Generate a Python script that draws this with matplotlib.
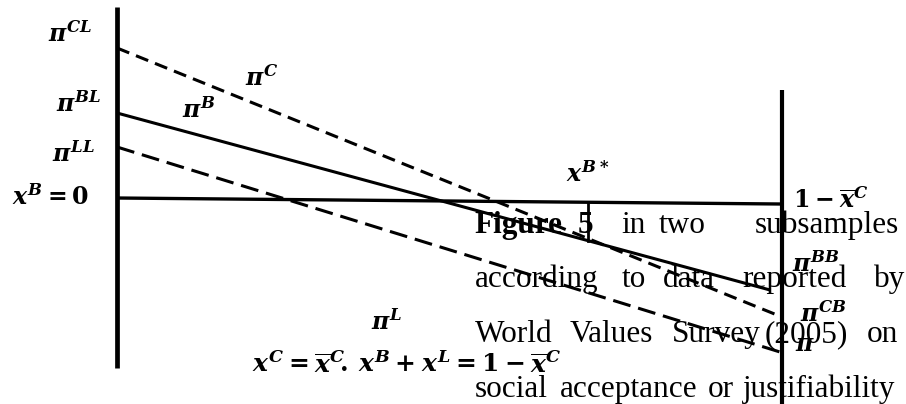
import matplotlib
matplotlib.use("Agg")
import numpy as np
import matplotlib.pyplot as plt

plt.rcParams['mathtext.fontset'] = 'custom'
plt.rcParams['mathtext.rm'] = 'DejaVu Serif:bold'
plt.rcParams['mathtext.it'] = 'DejaVu Serif:bold:italic'
plt.rcParams['mathtext.bf'] = 'DejaVu Serif:bold'

# payoff lines: value at x^B = 0 and at the right end of each line
x_end = np.array([0.0, 1.0])
pi_C = [1.52, -1.17]
pi_B = [0.87, -0.90]
pi_B_xend = 0.982
pi_L = [0.53, -1.52]
pi_L_xend = 0.997
base = [0.02, -0.04]
x_star = 0.708

# vertical axes (bottom, top)
left_axis = [-1.68, 1.93]
right_axis = [-2.04, 1.10]

fig = plt.figure(figsize=(9.06, 4.04), dpi=100)
ax = fig.add_axes([0, 0, 1, 1])
ax.set_xlim(-117 / 665, 789 / 665)
ax.set_ylim(-2.04, 2.0)
ax.axis('off')

ax.plot([0, 0], left_axis, color='black', lw=3.4, solid_capstyle='butt')
ax.plot([1, 1], right_axis, color='black', lw=3.0, solid_capstyle='butt')
ax.plot([0, 0.997], base, color='black', lw=2.4, solid_capstyle='butt')

ax.plot(x_end, pi_C, color='black', lw=2.2, dashes=(4.3, 2.4))
ax.plot([0, pi_B_xend], pi_B, color='black', lw=2.2, solid_capstyle='butt')
ax.plot([0, pi_L_xend], pi_L, color='black', lw=2.2, dashes=(5.9, 2.6))

# x^B* drop line, from the zero line down to pi^B
y_top = np.interp(x_star, [0, 0.997], base)
y_bot = np.interp(x_star, [0, pi_B_xend], pi_B)
ax.plot([x_star, x_star], [y_top, y_bot], color='black', lw=2.0)

ms = 17
labels = [
    (-0.071, 1.66, r'$\pi^{CL}$'),
    (-0.057, 0.96, r'$\pi^{BL}$'),
    (-0.066, 0.46, r'$\pi^{LL}$'),
    (-0.099, 0.03, r'$x^B=0$'),
    (0.218, 1.22, r'$\pi^C$'),
    (0.123, 0.90, r'$\pi^B$'),
    (0.406, -1.22, r'$\pi^L$'),
    (0.708, 0.26, r'$x^{B*}$'),
    (1.074, 0.00, r'$1-\overline{x}^C$'),
    (1.051, -0.64, r'$\pi^{BB}$'),
]
for x, y, s in labels:
    ax.text(x, y, s, fontsize=ms, ha='center', va='center')

ax.text(0.436, -1.64, r'$x^C=\overline{x}^C\!.\,x^B+x^L=1-\overline{x}^C$',
        fontsize=18, ha='center', va='center')

# body text lines, justified word by word
serif = 'Liberation Serif'
bs = 22.5
words = [
    (0.538, -0.33, 'Figure', 'bold'),
    (0.693, -0.33, '5', 'bold'),
    (0.759, -0.33, 'in', 'normal'),
    (0.814, -0.33, 'two', 'normal'),
    (0.959, -0.33, 'subsamples', 'normal'),
    (0.538, -0.87, 'according', 'normal'),
    (0.759, -0.87, 'to', 'normal'),
    (0.821, -0.87, 'data', 'normal'),
    (0.941, -0.87, 'reported', 'normal'),
    (1.138, -0.87, 'by', 'normal'),
    (0.538, -1.42, 'World', 'normal'),
    (0.681, -1.42, 'Values', 'normal'),
    (0.835, -1.42, 'Survey', 'normal'),
    (0.974, -1.42, '(2005)', 'normal'),
    (1.128, -1.42, 'on', 'normal'),
    (0.538, -1.97, 'social', 'normal'),
    (0.666, -1.97, 'acceptance', 'normal'),
    (0.889, -1.97, 'or', 'normal'),
    (0.941, -1.97, 'justifiability', 'normal'),
]
for x, y, s, w in words:
    ax.text(x, y, s, fontsize=bs, family=serif, weight=w, ha='left', va='baseline')

ax.text(1.063, -1.14, r'$\pi^{CB}$', fontsize=ms, ha='center', va='center')
ax.text(1.034, -1.44, r'$\pi$', fontsize=ms, ha='center', va='center')

fig.savefig('out.png', dpi=100)
